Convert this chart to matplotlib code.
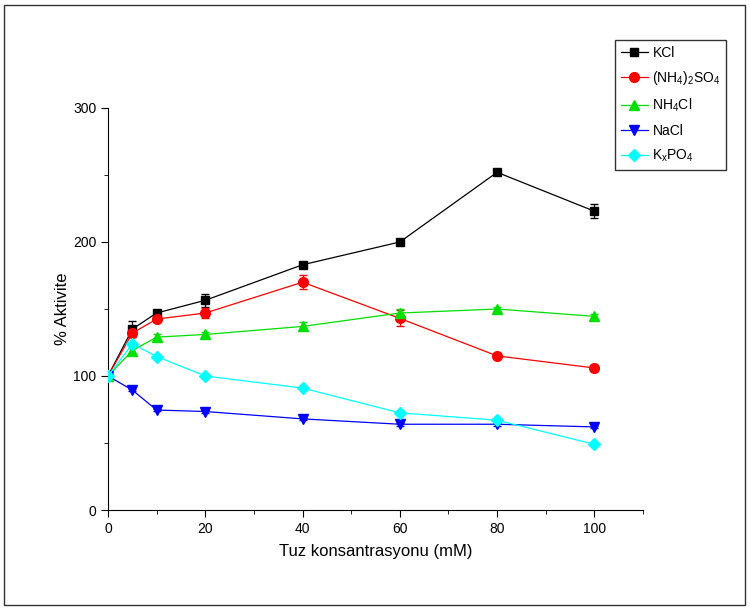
import matplotlib
matplotlib.use("Agg")
import matplotlib.pyplot as plt
from matplotlib.patches import Rectangle
from matplotlib.lines import Line2D

plt.rcParams['font.family'] = ['Liberation Sans', 'DejaVu Sans']
plt.rcParams['mathtext.default'] = 'regular'

conc = [0, 5, 10, 20, 40, 60, 80, 100]
kcl = [100, 135, 147, 156.5, 183, 200, 252, 223]
kcl_err = [0, 6, 2, 5, 2, 1.5, 2, 5]
nh4so4 = [100, 132, 142.5, 147, 170, 143, 115, 106]
nh4so4_err = [0, 3, 2, 4, 5, 6, 1.5, 2]
nh4cl = [100, 119, 129, 131, 137, 147, 150, 144.5]
nh4cl_err = [0, 2, 2, 2, 3, 3, 1.5, 2]
nacl = [100, 89.5, 74.6, 73.5, 68, 64, 64, 62]
nacl_err = [0, 1, 1, 1, 1, 1, 1, 1]
kxpo4 = [100, 124, 114.5, 100, 91, 72.5, 67, 49]
kxpo4_err = [0, 1, 1, 1, 1, 1, 1, 1]

labels = ['KCl', r'(NH$_4$)$_2$SO$_4$', r'NH$_4$Cl', 'NaCl', r'K$_x$PO$_4$']
series = [kcl, nh4so4, nh4cl, nacl, kxpo4]
errs = [kcl_err, nh4so4_err, nh4cl_err, nacl_err, kxpo4_err]
colors = ['#000000', '#ff0000', '#00e000', '#0000ff', '#00ffff']
markers = ['s', 'o', '^', 'v', 'D']
msizes = [6, 7, 7, 7, 6]

fig = plt.figure(figsize=(7.5, 6.08), dpi=100)
fig.patches.append(Rectangle((4/750, 1 - 605/608), 741/750, 600/608, transform=fig.transFigure,
                             fill=False, edgecolor='#333333', linewidth=1))
ax = fig.add_axes([108/750, 1 - 510/608, 535/750, 402/608])

handles = []
for y, e, c, m, ms, lab in zip(series, errs, colors, markers, msizes, labels):
    ax.errorbar(conc, y, yerr=e, color=c, marker=m, markersize=ms, linewidth=0.9,
                capsize=3, elinewidth=0.9, zorder=3)
    handles.append(Line2D([], [], color=c, marker=m, markersize=ms, linewidth=0.9, label=lab))

ax.set_xlim(0, 110)
ax.set_ylim(0, 300)
ax.set_xticks([0, 20, 40, 60, 80, 100])
ax.set_xticks([10, 30, 50, 70, 90, 110], minor=True)
ax.set_yticks([0, 100, 200, 300])
ax.set_yticks([50, 150, 250], minor=True)
ax.spines['top'].set_visible(False)
ax.spines['right'].set_visible(False)
ax.tick_params(axis='both', which='major', direction='out', length=5, labelsize=10)
ax.tick_params(axis='both', which='minor', direction='out', length=3)
ax.set_xlabel('Tuz konsantrasyonu (mM)', fontsize=12, labelpad=6)
ax.set_ylabel('% Aktivite', fontsize=12, labelpad=2)

leg = fig.legend(handles=handles, loc='upper left', bbox_to_anchor=(615/750, 1 - 40/608),
                 fontsize=10, frameon=True, fancybox=False, edgecolor='black',
                 handlelength=2.0, borderpad=0.4, labelspacing=0.7, handletextpad=0.3,
                 borderaxespad=0)
leg.get_frame().set_linewidth(1)

fig.savefig('out.png', dpi=100)
